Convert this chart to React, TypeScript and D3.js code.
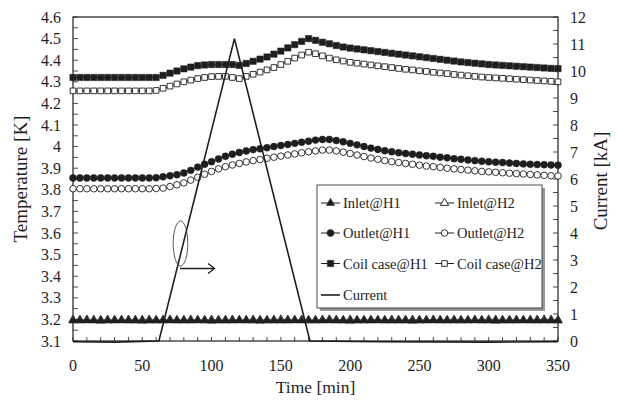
import React from "react";
import * as d3 from "d3";

const W = 618;
const H = 401;

const times = d3.range(0, 355, 5);

const inletH1 = [
  3.194, 3.194, 3.195, 3.194, 3.193, 3.194, 3.194, 3.195, 3.194, 3.194, 3.193, 3.194, 3.194,
  3.194, 3.195, 3.194, 3.194, 3.194, 3.195, 3.194, 3.193, 3.194, 3.194, 3.194, 3.195, 3.194,
  3.194, 3.193, 3.194, 3.194, 3.194, 3.194, 3.195, 3.194, 3.194, 3.194, 3.194, 3.195, 3.194,
  3.194, 3.193, 3.194, 3.194, 3.194, 3.195, 3.194, 3.194, 3.194, 3.194, 3.193, 3.194, 3.194,
  3.195, 3.194, 3.194, 3.194, 3.194, 3.194, 3.195, 3.194, 3.194, 3.193, 3.194, 3.194, 3.194,
  3.195, 3.194, 3.194, 3.194, 3.194, 3.194,
];

const inletH2 = [
  3.198, 3.197, 3.198, 3.197, 3.197, 3.198, 3.197, 3.197, 3.198, 3.197, 3.197, 3.198, 3.197,
  3.197, 3.198, 3.197, 3.197, 3.198, 3.197, 3.197, 3.198, 3.197, 3.197, 3.198, 3.197, 3.197,
  3.198, 3.197, 3.197, 3.198, 3.199, 3.198, 3.197, 3.198, 3.197, 3.197, 3.198, 3.199, 3.198,
  3.197, 3.198, 3.197, 3.197, 3.198, 3.197, 3.197, 3.198, 3.197, 3.197, 3.198, 3.197, 3.197,
  3.198, 3.197, 3.197, 3.198, 3.197, 3.197, 3.198, 3.197, 3.199, 3.198, 3.197, 3.197, 3.198,
  3.197, 3.197, 3.198, 3.199, 3.198, 3.197,
];

const outletH1 = [
  3.855, 3.855, 3.855, 3.855, 3.855, 3.855, 3.855, 3.855, 3.855, 3.855, 3.855, 3.855, 3.856,
  3.86, 3.865, 3.87, 3.878, 3.89, 3.905, 3.918, 3.93, 3.943, 3.955,
  3.965, 3.973, 3.98, 3.986, 3.99, 3.995, 4.0, 4.005, 4.01, 4.015,
  4.02, 4.025, 4.03, 4.033, 4.033, 4.028, 4.022, 4.015, 4.008, 4.0,
  3.993, 3.987, 3.981, 3.976, 3.972, 3.968, 3.965, 3.961, 3.958, 3.955,
  3.951, 3.948, 3.944, 3.941, 3.938, 3.935, 3.932, 3.93, 3.928, 3.926,
  3.924, 3.922, 3.92, 3.918, 3.917, 3.916, 3.915, 3.914,
];

const outletH2 = [
  3.805, 3.805, 3.805, 3.805, 3.805, 3.805, 3.805, 3.805, 3.805, 3.805, 3.805, 3.805, 3.806,
  3.808, 3.815, 3.823, 3.832, 3.845, 3.858, 3.872, 3.885, 3.897, 3.907,
  3.915, 3.922, 3.929, 3.935, 3.94, 3.946, 3.951, 3.956, 3.961, 3.966,
  3.971, 3.976, 3.98, 3.984, 3.984, 3.98, 3.974, 3.968, 3.961, 3.954,
  3.947, 3.941, 3.935, 3.93, 3.926, 3.922, 3.918, 3.914, 3.91, 3.907,
  3.904, 3.9, 3.897, 3.894, 3.891, 3.888, 3.885, 3.883, 3.881, 3.879,
  3.877, 3.875, 3.873, 3.871, 3.869, 3.867, 3.865, 3.864,
];

const coilH1 = [
  4.32, 4.32, 4.32, 4.32, 4.32, 4.32, 4.32, 4.32, 4.32, 4.32, 4.32, 4.32, 4.32,
  4.33, 4.34, 4.35, 4.36, 4.368, 4.375, 4.378, 4.38, 4.38, 4.38,
  4.38, 4.376, 4.385, 4.395, 4.405, 4.415, 4.428, 4.442, 4.457, 4.472,
  4.487, 4.5, 4.492, 4.483, 4.476, 4.468, 4.461, 4.456, 4.452, 4.448,
  4.444, 4.44, 4.436, 4.432, 4.428, 4.424, 4.42, 4.416, 4.412, 4.408,
  4.404, 4.4, 4.396, 4.392, 4.389, 4.386, 4.383, 4.38, 4.378, 4.376,
  4.374, 4.372, 4.37, 4.368, 4.366, 4.364, 4.362, 4.361,
];

const coilH2 = [
  4.258, 4.258, 4.258, 4.258, 4.258, 4.258, 4.258, 4.258, 4.258, 4.258, 4.258, 4.258, 4.26,
  4.27, 4.28, 4.29, 4.3, 4.308, 4.315, 4.32, 4.324, 4.325, 4.325,
  4.32, 4.315, 4.325, 4.335, 4.345, 4.355, 4.366, 4.38, 4.395, 4.41,
  4.424, 4.437, 4.43, 4.42, 4.41, 4.402, 4.396, 4.39, 4.386, 4.382,
  4.378, 4.374, 4.37, 4.366, 4.362, 4.358, 4.355, 4.351, 4.348, 4.344,
  4.341, 4.338, 4.334, 4.331, 4.328, 4.325, 4.322, 4.32, 4.318, 4.316,
  4.314, 4.312, 4.31, 4.308, 4.306, 4.304, 4.302, 4.3,
];

const currentTimes = [0, 30, 62, 116.5, 171, 220, 300, 350];
const currentValues = [-0.03, -0.04, 0, 11.2, 0, -0.03, -0.04, -0.03];

const xTicks = [0, 50, 100, 150, 200, 250, 300, 350];
const yLeftTicks = [3.1, 3.2, 3.3, 3.4, 3.5, 3.6, 3.7, 3.8, 3.9, 4, 4.1, 4.2, 4.3, 4.4, 4.5, 4.6];
const yRightTicks = [0, 1, 2, 3, 4, 5, 6, 7, 8, 9, 10, 11, 12];

type Series = { name: string; values: number[]; symbol: d3.SymbolType; filled: boolean; size: number };

const series: Series[] = [
  { name: "Inlet@H1", values: inletH1, symbol: d3.symbolTriangle, filled: true, size: 30 },
  { name: "Inlet@H2", values: inletH2, symbol: d3.symbolTriangle, filled: false, size: 30 },
  { name: "Outlet@H1", values: outletH1, symbol: d3.symbolCircle, filled: true, size: 38 },
  { name: "Outlet@H2", values: outletH2, symbol: d3.symbolCircle, filled: false, size: 34 },
  { name: "Coil case@H1", values: coilH1, symbol: d3.symbolSquare, filled: true, size: 40 },
  { name: "Coil case@H2", values: coilH2, symbol: d3.symbolSquare, filled: false, size: 32 },
];

const drawOrder = [1, 0, 2, 3, 4, 5];

const FONT = "Liberation Serif, Tinos, Times New Roman, DejaVu Serif, serif";
const INK = "#1e1e1e";
const TXT = { fontFamily: FONT };

export default function App() {
  const left = 73, right = 558, top = 17, bottom = 341;
  const x = d3.scaleLinear().domain([0, 350]).range([left, right]);
  const yL = d3.scaleLinear().domain([3.1, 4.6]).range([bottom, top]);
  const yR = d3.scaleLinear().domain([0, 12]).range([bottom, top]);

  const line = d3
    .line<number>()
    .x((_, i) => x(times[i]))
    .y((v) => yL(v));

  const currentLine = d3
    .line<number>()
    .x((_, i) => x(currentTimes[i]))
    .y((v) => yR(Math.max(v, -0.06)));

  const leftMinor = d3.range(3.1, 4.6001, 0.05);
  const rightMinor = d3.range(0, 12.001, 0.5);
  const bottomMinor = d3.range(0, 350.001, 10);

  const sym = (s: Series) => d3.symbol().type(s.symbol).size(s.size)() || "";

  const lgX = 317, lgY = 185, lgW = 225, lgH = 123;
  const rowYs = [203, 233, 263.5, 295];
  const colXs = [321, 435];

  return (
    <svg
      width={W}
      height={H}
      style={{ position: "absolute", left: 0, top: 0, background: "#fff", fontFamily: FONT }}
    >
      <rect x={0} y={0} width={W} height={H} fill="#fff" />

      {leftMinor.map((t, i) => (
        <line key={"lm" + i} x1={left} x2={left + 5} y1={yL(t)} y2={yL(t)} stroke={INK} strokeWidth={0.8} />
      ))}
      {rightMinor.map((t, i) => (
        <line key={"rm" + i} x1={right - 5} x2={right} y1={yR(t)} y2={yR(t)} stroke={INK} strokeWidth={0.8} />
      ))}
      {bottomMinor.map((t, i) => (
        <line key={"bm" + i} x1={x(t)} x2={x(t)} y1={bottom} y2={bottom - 4} stroke={INK} strokeWidth={0.8} />
      ))}

      <rect x={left} y={top} width={right - left} height={bottom - top} fill="none" stroke={INK} strokeWidth={1.2} />

      {yLeftTicks.map((t) => (
        <text key={"yl" + t} x={61} y={yL(t)} dy="0.35em" textAnchor="end" fontSize={16} fill={INK} style={TXT}>
          {String(t)}
        </text>
      ))}
      {yRightTicks.map((t) => (
        <text key={"yr" + t} x={570} y={yR(t)} dy="0.35em" textAnchor="start" fontSize={16} fill={INK} style={TXT}>
          {String(t)}
        </text>
      ))}
      {xTicks.map((t) => (
        <text key={"xt" + t} x={x(t)} y={371} textAnchor="middle" fontSize={16} fill={INK} style={TXT}>
          {String(t)}
        </text>
      ))}

      <text x={(left + right) / 2} y={393} textAnchor="middle" fontSize={17.5} fill={INK} style={TXT}>
        Time [min]
      </text>
      <text
        transform={`translate(${27},${(top + bottom) / 2}) rotate(-90)`}
        textAnchor="middle"
        fontSize={19}
        fill={INK}
        style={TXT}
      >
        Temperature [K]
      </text>
      <text
        transform={`translate(${607},${(top + bottom) / 2 + 2}) rotate(-90)`}
        textAnchor="middle"
        fontSize={19}
        fill={INK}
        style={TXT}
      >
        Current [kA]
      </text>

      {drawOrder.map((k) => {
        const s = series[k];
        return (
          <g key={s.name}>
            <path d={line(s.values) || ""} fill="none" stroke={INK} strokeWidth={1} />
            {s.values.map((v, i) => (
              <path
                key={i}
                d={sym(s)}
                transform={`translate(${x(times[i])},${yL(v)})`}
                fill={s.filled ? INK : "#fff"}
                stroke={INK}
                strokeWidth={s.filled ? 0.5 : 0.9}
              />
            ))}
          </g>
        );
      })}

      <path d={currentLine(currentValues) || ""} fill="none" stroke={INK} strokeWidth={1.6} />

      <ellipse cx={180.5} cy={243.5} rx={7.3} ry={22.5} fill="none" stroke="#444" strokeWidth={0.9} />
      <line x1={180} x2={214} y1={268.5} y2={268.5} stroke={INK} strokeWidth={1.3} />
      <path d="M 208 263.5 L 214.5 268.5 L 208 273.5" fill="none" stroke={INK} strokeWidth={1.3} />

      <rect x={lgX + 3} y={lgY + 3} width={lgW} height={lgH} fill="#9a9a9a" />
      <rect x={lgX} y={lgY} width={lgW} height={lgH} fill="#fff" stroke={INK} strokeWidth={0.8} />
      {series.map((s, i) => {
        const cx = colXs[i % 2];
        const cy = rowYs[Math.floor(i / 2)];
        return (
          <g key={"lg" + s.name}>
            <line x1={cx} x2={cx + 19} y1={cy} y2={cy} stroke={INK} strokeWidth={1} />
            <path
              d={sym(s)}
              transform={`translate(${cx + 9.5},${cy})`}
              fill={s.filled ? INK : "#fff"}
              stroke={INK}
              strokeWidth={s.filled ? 0.5 : 0.9}
            />
            <text x={cx + 22} y={cy} dy="0.35em" fontSize={14.5} fill={INK} style={TXT}>
              {s.name}
            </text>
          </g>
        );
      })}
      <line x1={colXs[0]} x2={colXs[0] + 19} y1={rowYs[3]} y2={rowYs[3]} stroke={INK} strokeWidth={1.6} />
      <text x={colXs[0] + 22} y={rowYs[3]} dy="0.35em" fontSize={14.5} fill={INK} style={TXT}>
        Current
      </text>
    </svg>
  );
}
